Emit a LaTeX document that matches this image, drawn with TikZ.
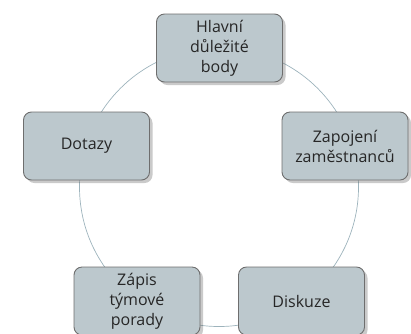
\documentclass[tikz,border=0pt]{standalone}
\usepackage{fontspec}
\setmainfont{Open Sans}
\usetikzlibrary{shadows}
\definecolor{boxfill}{HTML}{BCC8CD}
\definecolor{boxline}{HTML}{6E6E6E}
\definecolor{ringcol}{HTML}{9DB3BC}
\definecolor{txt}{HTML}{262626}
\tikzset{
  topic/.style={draw=boxline, line width=0.9pt, fill=boxfill, rounded corners=8pt,
    minimum width=126pt, minimum height=68pt, inner sep=2pt, align=center,
    text=txt, font=\fontsize{16}{20}\selectfont,
    drop shadow={shadow xshift=3pt, shadow yshift=-3pt, opacity=0.35, fill=black!60}},
  ring/.style={draw=ringcol, line width=0.7pt}
}
\begin{document}
\begin{tikzpicture}[x=1pt,y=-1pt]
\useasboundingbox (0,0) rectangle (411,333);
\coordinate (c) at (219,187);
\draw[ring] (c) circle[radius=139.5];
\node[topic] (top) at (219.5,48) {Hlavní\\důležité\\body};
\node[topic] (right) at (345,146) {Zapojení\\zaměstnanců};
\node[topic] (left) at (86.5,146) {Dotazy};
\node[topic] (bl) at (137,301) {Zápis\\týmové\\porady};
\node[topic] (br) at (301.5,301) {Diskuze};
\end{tikzpicture}
\end{document}
